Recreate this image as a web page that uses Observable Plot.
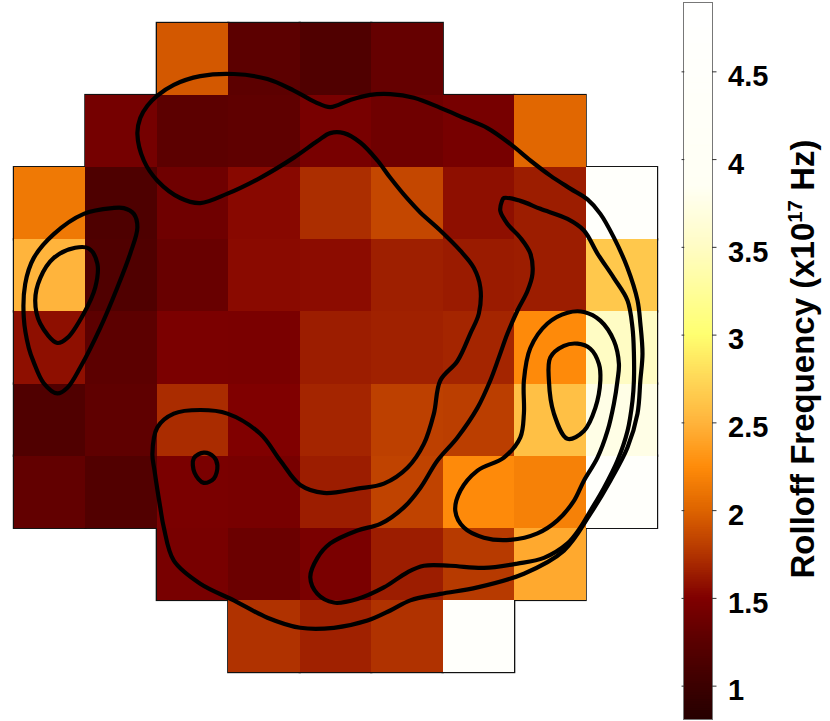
<!DOCTYPE html>
<html><head><meta charset="utf-8">
<script src="https://cdn.jsdelivr.net/npm/d3@7"></script>
<script src="https://cdn.jsdelivr.net/npm/@observablehq/plot@0.6"></script>
<style>
html,body{margin:0;padding:0;background:#fff;}
#wrap{position:relative;width:830px;height:721px;overflow:hidden;font-family:"Liberation Sans",Arial,sans-serif;}
#wrap svg{position:absolute;left:0;top:0;}
#title{position:absolute;left:802px;top:359px;transform:translate(-50%,-50%) rotate(-90deg);white-space:nowrap;font-weight:bold;font-size:33px;line-height:1;color:#000;}
#title sup{font-size:0.62em;vertical-align:0.55em;line-height:0;}
</style></head><body><div id="wrap"><div id="title">Rolloff Frequency (x10<sup>17</sup> Hz)</div></div>
<script>
// Rolloff frequency (x10^17 Hz) per pixel, rows top to bottom, columns left to right (null = no data)
const rollRow0 = [null, null, 1.94, 1.26, 1.17, 1.32, null, null, null];
const rollRow1 = [null, 1.43, 1.26, 1.28, 1.45, 1.39, 1.44, 2.02, null];
const rollRow2 = [2.13, 1.15, 1.39, 1.54, 1.72, 1.85, 1.57, 1.64, 4.5];
const rollRow3 = [2.50, 1.17, 1.34, 1.55, 1.56, 1.65, 1.63, 1.64, 2.64];
const rollRow4 = [1.57, 1.26, 1.47, 1.46, 1.64, 1.66, 1.68, 2.24, 3.5];
const rollRow5 = [1.17, 1.28, 1.71, 1.50, 1.68, 1.81, 1.80, 2.58, 3.75];
const rollRow6 = [1.30, 1.18, 1.46, 1.45, 1.64, 1.83, 2.24, 2.18, 4.5];
const rollRow7 = [null, null, 1.45, 1.36, 1.46, 1.64, 1.78, 2.43, null];
const rollRow8 = [null, null, null, 1.74, 1.66, 1.74, 4.5, null, null];

// Colour map stops (value -> colour)
const colorStops = [0.81, 1.0, 1.25, 1.5, 1.75, 2.0, 2.25, 2.5, 2.75, 3.0, 3.5, 3.85, 4.9];
const colorHex = ["#260000","#3c0000","#5a0000","#800000","#b23400","#de6400","#ff8c0a","#ffb43c","#ffd858","#ffff70","#fffcc4","#fffff4","#ffffff"];
const colorbarDomain = [0.81, 4.895];
const colorbarTicks = [1, 1.5, 2, 2.5, 3, 3.5, 4, 4.5];

// Overlay contours, in pixel-grid units [column, row]
const contourLeftOuter = [[1.37,2.56],[0.97,2.64],[0.55,2.92],[0.27,3.25],[0.15,3.61],[0.13,4.08],[0.20,4.50],[0.27,4.70],[0.41,4.99],[0.60,5.13],[0.74,5.05],[0.92,4.77],[1.20,4.22],[1.44,3.66],[1.62,3.19],[1.72,2.83],[1.67,2.64],[1.53,2.56]];
const contourLeftInner = [[0.85,3.11],[0.55,3.25],[0.36,3.53],[0.29,3.84],[0.36,4.16],[0.60,4.43],[0.74,4.36],[0.97,4.02],[1.13,3.66],[1.16,3.33],[1.04,3.12]];
const contourSmall = [[2.65,5.95],[2.79,6.01],[2.84,6.13],[2.79,6.31],[2.65,6.37],[2.52,6.23],[2.51,6.03]];
const contourRightInner = [[7.50,4.63],[7.69,4.47],[7.88,4.44],[8.06,4.51],[8.18,4.72],[8.20,4.95],[8.13,5.33],[7.97,5.65],[7.74,5.76],[7.55,5.41],[7.48,4.95]];
const contourRightMid = [[7.13,4.95],[7.22,4.50],[7.46,4.16],[7.74,4.01],[7.97,4.00],[8.20,4.12],[8.39,4.40],[8.46,4.72],[8.44,4.95],[8.39,5.27],[8.30,5.65],[8.16,6.02],[7.97,6.34],[7.83,6.62],[7.60,6.89],[7.32,7.07],[6.94,7.16],[6.57,7.13],[6.29,6.99],[6.17,6.76],[6.24,6.48],[6.48,6.20],[6.85,6.02],[7.08,5.74],[7.13,5.41]];
const contourHook = [[6.85,2.42],[7.08,2.46],[7.36,2.57],[7.74,2.71],[7.97,2.87],[8.16,3.19],[8.39,3.53],[8.58,3.84],[8.65,4.22],[8.67,4.58],[8.67,4.95],[8.65,5.23],[8.58,5.65],[8.44,6.06],[8.25,6.44],[8.06,6.76],[7.92,6.99],[7.74,7.21],[7.41,7.41],[7.04,7.49],[6.57,7.55],[6.10,7.52],[5.73,7.52],[5.50,7.61],[5.17,7.82],[4.80,7.98],[4.47,8.03],[4.24,7.91],[4.14,7.68],[4.24,7.41],[4.42,7.21],[4.80,7.03],[5.12,6.94],[5.45,6.71],[5.68,6.44],[5.92,6.06],[6.20,5.74],[6.48,5.33],[6.66,4.95],[6.78,4.63],[6.90,4.30],[7.04,3.98],[7.18,3.71],[7.25,3.47],[7.22,3.19],[7.08,2.97],[6.90,2.78],[6.80,2.60],[6.82,2.47]];
const contourRing = [[2.00,1.00],[2.23,0.85],[2.60,0.73],[3.07,0.70],[3.54,0.77],[3.91,0.93],[4.21,1.09],[4.42,1.16],[4.70,1.06],[4.98,0.99],[5.26,0.98],[5.59,1.03],[5.96,1.17],[6.29,1.31],[6.62,1.45],[6.94,1.67],[7.22,1.90],[7.50,2.11],[7.78,2.29],[8.02,2.44],[8.20,2.64],[8.39,2.97],[8.58,3.39],[8.72,3.84],[8.76,4.16],[8.79,4.58],[8.76,4.95],[8.72,5.41],[8.58,5.88],[8.34,6.34],[8.06,6.80],[7.69,7.31],[7.13,7.63],[6.48,7.82],[5.96,7.91],[5.54,8.00],[5.26,8.14],[4.94,8.28],[4.47,8.38],[4.00,8.38],[3.54,8.24],[3.07,8.00],[2.60,7.77],[2.23,7.45],[2.09,6.99],[2.04,6.71],[1.96,6.20],[1.93,5.97],[2.00,5.60],[2.23,5.41],[2.60,5.36],[2.98,5.41],[3.44,5.69],[3.72,6.06],[4.00,6.40],[4.33,6.51],[4.80,6.45],[5.17,6.38],[5.50,6.16],[5.73,5.83],[5.87,5.41],[5.96,4.95],[6.20,4.68],[6.38,4.30],[6.50,4.02],[6.52,3.66],[6.43,3.39],[6.24,3.15],[5.96,2.87],[5.68,2.62],[5.50,2.43],[5.26,2.14],[5.08,1.90],[4.84,1.65],[4.61,1.52],[4.42,1.52],[4.24,1.63],[3.91,1.86],[3.44,2.14],[2.98,2.36],[2.60,2.49],[2.32,2.42],[2.00,2.18],[1.81,1.90],[1.72,1.53],[1.76,1.31],[1.86,1.14]];

const rows = [rollRow0, rollRow1, rollRow2, rollRow3, rollRow4, rollRow5, rollRow6, rollRow7, rollRow8];
const cells = rows.flatMap((r, i) => r.map((v, j) => ({row: i, col: j, v})).filter(d => d.v != null));
const contours = [contourRing, contourHook, contourRightMid, contourRightInner, contourLeftOuter, contourLeftInner, contourSmall];

const colorScale = {type: "linear", domain: colorStops, range: colorHex, interpolate: "rgb", clamp: true};

const main = Plot.plot({
  width: 830, height: 721,
  marginLeft: 14, marginRight: 173, marginTop: 23, marginBottom: 49,
  x: {domain: [0, 9], axis: null},
  y: {domain: [0, 9], reverse: true, axis: null},
  color: colorScale,
  style: {background: "transparent"},
  marks: [
    Plot.rect(cells, {x1: "col", x2: d => d.col + 1, y1: "row", y2: d => d.row + 1, fill: "#111", inset: -1.2}),
    Plot.rect(cells, {x1: "col", x2: d => d.col + 1, y1: "row", y2: d => d.row + 1, fill: "v", shapeRendering: "crispEdges"}),
    ...contours.map(c => Plot.line(c, {x: d => d[0], y: d => d[1], curve: "catmull-rom-closed", stroke: "#000", strokeWidth: 4.2}))
  ]
});

const [lo, hi] = colorbarDomain;
const nb = 400;
const bands = d3.range(nb).map(i => ({
  y1: lo + (hi - lo) * i / nb,
  y2: Math.min(hi, lo + (hi - lo) * (i + 1.8) / nb),
  v: lo + (hi - lo) * (i + 0.5) / nb
}));

const bar = Plot.plot({
  width: 830, height: 721,
  marginLeft: 683, marginRight: 118, marginTop: 2, marginBottom: 2,
  x: {domain: [0, 1], axis: null},
  y: {domain: colorbarDomain, axis: null},
  color: colorScale,
  style: {background: "transparent", fontFamily: "'Liberation Sans', Arial, sans-serif", color: "#000"},
  marks: [
    Plot.rect(bands, {x1: 0, x2: 1, y1: "y1", y2: "y2", fill: "v"}),
    Plot.frame({stroke: "#777"}),
    Plot.ruleY(colorbarTicks, {y: d => d, x1: 1, x2: 1.155, stroke: "#333", strokeWidth: 1}),
    Plot.ruleY(colorbarTicks, {y: d => d, x1: -0.05, x2: 0.045, stroke: "#333", strokeWidth: 1}),
    Plot.text(colorbarTicks, {x: 1, y: d => d, text: d => String(d), dx: 15.5, dy: 5, textAnchor: "start", fontSize: 29, fontWeight: "bold", fill: "#000"})
  ]
});

const wrap = document.getElementById("wrap");
const title = document.getElementById("title");
wrap.insertBefore(main, title);
wrap.insertBefore(bar, title);
</script></body></html>
